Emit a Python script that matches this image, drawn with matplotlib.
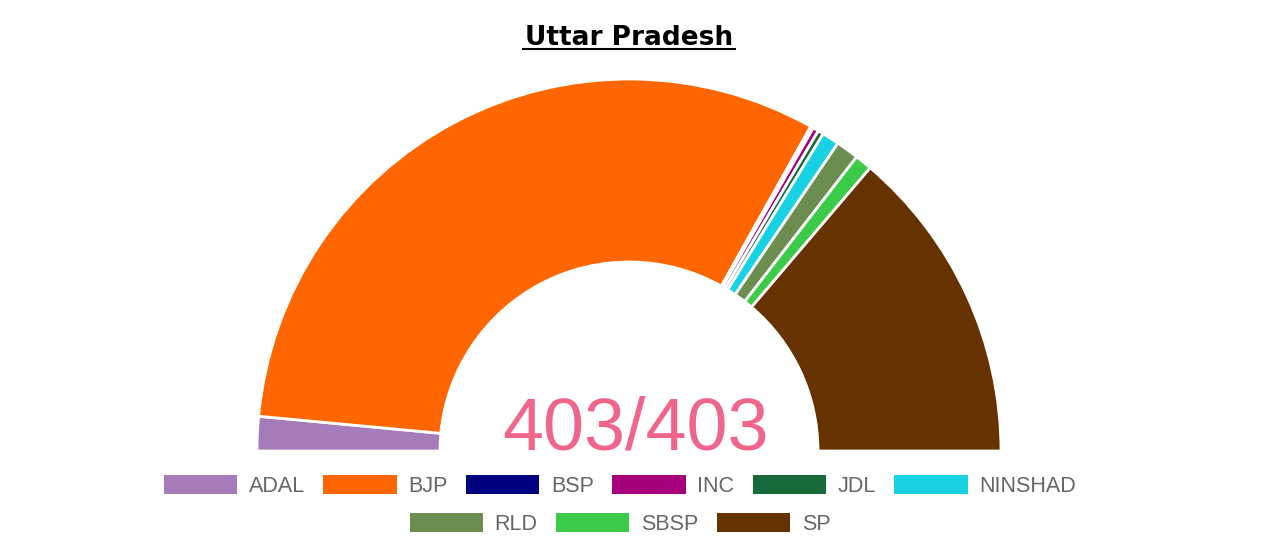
import matplotlib.pyplot as plt
from matplotlib.patches import Patch

# seats won, Uttar Pradesh
parties = ['ADAL', 'BJP', 'BSP', 'INC', 'JDL', 'NINSHAD', 'RLD', 'SBSP', 'SP']
seats = [12, 255, 1, 2, 2, 6, 8, 6, 111]
colors = ['#a67bba', '#ff6600', '#000080', '#a6007a', '#176b3a',
          '#18d2e3', '#6b8e50', '#3ccb48', '#663300']
total = 403

fig = plt.figure(figsize=(12.8, 5.55), dpi=100)
ax = fig.add_axes([0, 0, 1, 1])

# half doughnut: fractions of a full circle, drawn left -> top -> right
fracs = [s / sum(seats) * 0.5 for s in seats]
ax.pie(fracs, colors=colors, normalize=False, startangle=180, counterclock=False,
       center=(629, 104), radius=372, frame=True,
       wedgeprops=dict(width=183, edgecolor='white', linewidth=2))

ax.set_xlim(0, 1280)
ax.set_ylim(0, 555)
ax.set_aspect('equal')
ax.axis('off')

ax.text(635, 105, f'{sum(seats)}/{total}', ha='center', va='baseline',
        fontsize=53, color='#f0668a', family='Liberation Sans')

# title with underline
ax.text(629, 510, 'Uttar Pradesh', ha='center', va='baseline',
        fontsize=19, fontweight='bold', family='DejaVu Sans', color='black')
ax.plot([522, 736], [506, 506], color='black', lw=1.5, solid_capstyle='butt')

handles = [Patch(facecolor=c, edgecolor='none', label=p) for p, c in zip(parties, colors)]
legend_kw = dict(frameon=False, handlelength=3.4, handleheight=1.0,
                 handletextpad=0.55, columnspacing=0.85, borderaxespad=0,
                 prop={'family': 'Liberation Sans', 'size': 15.5}, labelcolor='#666666',
                 loc='center')
leg1 = ax.legend(handles=handles[:6], ncol=6, bbox_to_anchor=(620 / 1280, 69 / 555), **legend_kw)
ax.add_artist(leg1)
ax.legend(handles=handles[6:], ncol=3, bbox_to_anchor=(620 / 1280, 31 / 555), **legend_kw)

fig.savefig('out.png', dpi=100, facecolor='white')
